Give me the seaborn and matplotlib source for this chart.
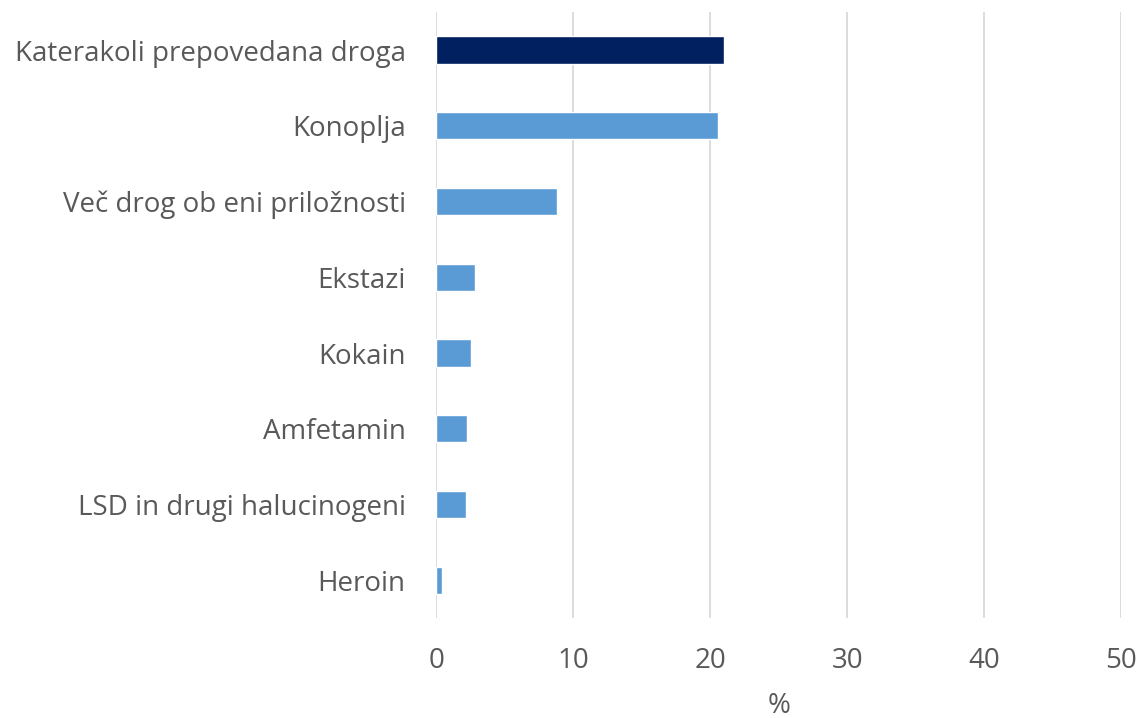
import matplotlib
matplotlib.use("Agg")
import matplotlib.pyplot as plt
import seaborn as sns
import pandas as pd

categories = [
    "Katerakoli prepovedana droga",
    "Konoplja",
    "Več drog ob eni priložnosti",
    "Ekstazi",
    "Kokain",
    "Amfetamin",
    "LSD in drugi halucinogeni",
    "Heroin",
]
values = [21.0, 20.6, 8.8, 2.85, 2.55, 2.25, 2.15, 0.45]
x_ticks = [0, 10, 20, 30, 40, 50]
x_label = "%"

dark_blue = "#002060"
light_blue = "#5B9BD5"
bar_colors = [dark_blue] + [light_blue] * (len(categories) - 1)

sns.set_theme(style="white")
plt.rcParams["font.family"] = ["Open Sans", "DejaVu Sans"]

df = pd.DataFrame({"kategorija": categories, "odstotek": values})

fig = plt.figure(figsize=(11.37, 7.18), dpi=100)
ax = fig.add_axes([0.3837, 0.139, 0.6023, 0.844])

sns.barplot(
    data=df, y="kategorija", x="odstotek", hue="kategorija",
    palette=bar_colors, orient="h", width=0.36, legend=False,
    saturation=1, ax=ax,
)

ax.set_xlim(0, 50)
ax.set_ylim(len(categories) - 0.5, -0.5)
ax.set_xticks(x_ticks)
ax.set_xticklabels([str(t) for t in x_ticks])
ax.xaxis.grid(True, color="#D9D9D9", linewidth=1.3)
ax.set_axisbelow(True)
for s in ax.spines.values():
    s.set_visible(False)
ax.tick_params(axis="both", length=0, colors="#595959", labelsize=20)
ax.tick_params(axis="x", pad=21)
ax.tick_params(axis="y", pad=22)
ax.set_ylabel("")
ax.set_xlabel(x_label, color="#595959", fontsize=20, labelpad=12)

fig.savefig("out.png", dpi=100)
